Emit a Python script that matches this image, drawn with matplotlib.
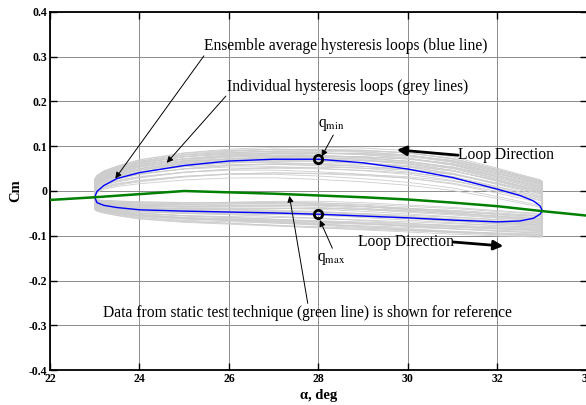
import numpy as np
import matplotlib
matplotlib.use("Agg")
import matplotlib.pyplot as plt

plt.rcParams['font.family'] = ['Liberation Serif', 'DejaVu Serif']
plt.rcParams['mathtext.fontset'] = 'stix'
plt.rcParams['axes.unicode_minus'] = False

# angle of attack grid shared by the loop branches
alpha_pts = [23.0, 23.05, 23.2, 23.5, 24, 25, 26, 27, 28, 29, 30, 31, 32, 32.5, 32.8, 32.95, 33.0]

# ensemble average loop (blue)
cm_up = [-0.014, -0.001, 0.012, 0.028, 0.041, 0.057, 0.067, 0.071, 0.071, 0.063, 0.049, 0.030, 0.004, -0.010, -0.022, -0.033, -0.044]
cm_lo = [-0.014, -0.026, -0.032, -0.037, -0.042, -0.045, -0.047, -0.049, -0.052, -0.056, -0.060, -0.065, -0.069, -0.067, -0.061, -0.052, -0.044]

# spread of the individual loops (grey)
up_top = [0.028, 0.036, 0.046, 0.057, 0.072, 0.088, 0.096, 0.100, 0.100, 0.098, 0.092, 0.078, 0.052, 0.038, 0.030, 0.026, 0.022]
up_bot = [-0.012, -0.004, 0.004, 0.010, 0.016, 0.024, 0.028, 0.028, 0.024, 0.018, 0.010, -0.002, -0.020, -0.030, -0.036, -0.040, -0.042]
lo_top = [-0.018, -0.019, -0.020, -0.021, -0.022, -0.022, -0.020, -0.018, -0.018, -0.022, -0.028, -0.034, -0.042, -0.046, -0.048, -0.050, -0.052]
lo_bot = [-0.042, -0.046, -0.050, -0.056, -0.064, -0.072, -0.077, -0.082, -0.087, -0.091, -0.095, -0.099, -0.102, -0.103, -0.104, -0.104, -0.104]

# position of each individual loop inside the spread (left end, right end)
fu_left = [0.98, 0.95, 0.93, 0.90, 0.88, 0.86, 0.84, 0.82, 0.80, 0.78, 0.76, 0.74, 0.72, 0.70, 0.68, 0.66, 0.64, 0.62,
           0.60, 0.58, 0.56, 0.54, 0.52, 0.50, 0.47, 0.44, 0.41, 0.38, 0.34, 0.30, 0.25, 0.20, 0.15, 0.10, 0.05, 0.00]
fu_right = [0.80, 0.99, 0.70, 0.92, 0.60, 0.95, 0.75, 0.88, 0.55, 0.97, 0.66, 0.85, 0.45, 0.90, 0.58, 0.78, 0.94, 0.50,
            0.72, 0.83, 0.40, 0.68, 0.86, 0.35, 0.62, 0.76, 0.30, 0.52, 0.64, 0.20, 0.42, 0.56, 0.10, 0.28, 0.36, 0.05]
fl_left = [0.55, 0.20, 0.85, 0.40, 0.70, 0.05, 0.95, 0.30, 0.60, 0.15, 0.80, 0.45, 0.65, 0.25, 0.90, 0.50, 0.10, 0.75,
           0.35, 0.58, 0.22, 0.88, 0.42, 0.68, 0.12, 0.78, 0.48, 0.32, 0.62, 0.02, 0.72, 0.38, 0.52, 0.18, 0.98, 0.28]
fl_right = [0.40, 0.35, 0.70, 0.55, 0.90, 0.15, 0.80, 0.10, 0.45, 0.30, 0.95, 0.60, 0.50, 0.05, 0.75, 0.65, 0.25, 0.85,
            0.20, 0.48, 0.38, 0.98, 0.58, 0.52, 0.02, 0.68, 0.28, 0.42, 0.78, 0.12, 0.62, 0.18, 0.88, 0.32, 0.72, 0.08]

# static test data (green)
static_alpha = [22, 23, 24, 25, 26, 27, 28, 29, 30, 31, 32, 33, 34]
static_cm = [-0.020, -0.014, -0.007, 0.000, -0.003, -0.006, -0.010, -0.014, -0.019, -0.026, -0.034, -0.045, -0.055]

q_alpha = 28

a = np.array(alpha_pts)
up_top, up_bot = np.array(up_top), np.array(up_bot)
lo_top, lo_bot = np.array(lo_top), np.array(lo_bot)
w = (a - a[0]) / (a[-1] - a[0])

fig = plt.figure(figsize=(5.86, 4.05), dpi=100)
ax = fig.add_axes([0.0853, 0.0864, 0.9164, 0.884])

for ful, fur, fll, flr in zip(fu_left, fu_right, fl_left, fl_right):
    fu = ful + (fur - ful) * w
    fl = fll + (flr - fll) * w
    up = up_bot + fu * (up_top - up_bot)
    lo = lo_bot + fl * (lo_top - lo_bot)
    xs = np.concatenate([a[::-1], a, a[-1:]])
    ys = np.concatenate([up[::-1], lo, up[-1:]])
    ax.plot(xs, ys, color='#cdcdcd', lw=0.6, zorder=2)

xs = np.concatenate([a[::-1], a])
ys = np.concatenate([np.array(cm_up)[::-1], cm_lo])
ax.plot(xs, ys, color='#0000ff', lw=1.0, zorder=3)
ax.plot(static_alpha, static_cm, color='#008000', lw=1.8, zorder=4)

i = alpha_pts.index(q_alpha)
ax.plot([q_alpha, q_alpha], [cm_up[i], cm_lo[i]], 'o', ms=6, mfc='none', mec='k', mew=2.0, zorder=5)

ax.set_xlim(22, 34)
ax.set_ylim(-0.4, 0.4)
ax.set_xticks(np.arange(22, 35, 2))
ax.set_yticks(np.round(np.arange(-0.4, 0.41, 0.1), 1))
ax.set_yticklabels(['-0.4', '-0.3', '-0.2', '-0.1', '0', '0.1', '0.2', '0.3', '0.4'])
ax.grid(True, color='#8c8c8c', lw=0.7)
ax.set_axisbelow(True)
ax.tick_params(direction='in', top=True, right=True, length=5, width=1.0, labelsize=8.5, pad=2)
for lab in ax.get_xticklabels() + ax.get_yticklabels():
    lab.set_fontweight('bold')
for sp in ax.spines.values():
    sp.set_linewidth(1.3)
ax.set_xlabel('α, deg', fontsize=10.5, fontweight='bold', labelpad=3)
ax.set_ylabel('Cm', fontsize=10.5, fontweight='bold', labelpad=5)

fs = 11.2
thin = dict(arrowstyle='-|>', lw=0.7, color='k', mutation_scale=9, shrinkA=0, shrinkB=0)
thick = dict(arrowstyle='-|>', lw=2.0, color='k', mutation_scale=14, shrinkA=0, shrinkB=0)

ax.text(25.44, 0.325, 'Ensemble average hysteresis loops (blue line)', fontsize=fs, va='center')
ax.annotate('', xy=(23.46, 0.028), xytext=(25.44, 0.302), arrowprops=thin)

ax.text(25.95, 0.232, 'Individual hysteresis loops (grey lines)', fontsize=fs, va='center')
ax.annotate('', xy=(24.61, 0.063), xytext=(25.93, 0.212), arrowprops=thin)

ax.text(28.0, 0.147, r'q$_{\mathrm{min}}$', fontsize=fs, va='center')
ax.annotate('', xy=(28.07, 0.077), xytext=(28.33, 0.125), arrowprops=thin)

ax.text(27.96, -0.152, r'q$_{\mathrm{max}}$', fontsize=fs, va='center')
ax.annotate('', xy=(28.03, -0.065), xytext=(28.31, -0.128), arrowprops=thin)

ax.text(31.12, 0.080, 'Loop Direction', fontsize=fs, va='center')
ax.annotate('', xy=(29.75, 0.092), xytext=(31.12, 0.080), arrowprops=thick)

ax.text(28.88, -0.113, 'Loop Direction', fontsize=fs, va='center')
ax.annotate('', xy=(32.13, -0.123), xytext=(31.01, -0.114), arrowprops=thick)

ax.text(23.18, -0.273, 'Data from static test technique (green line) is shown for reference', fontsize=fs, va='center')
ax.annotate('', xy=(27.35, -0.011), xytext=(27.76, -0.251), arrowprops=thin)

fig.savefig('out.png', dpi=100)
